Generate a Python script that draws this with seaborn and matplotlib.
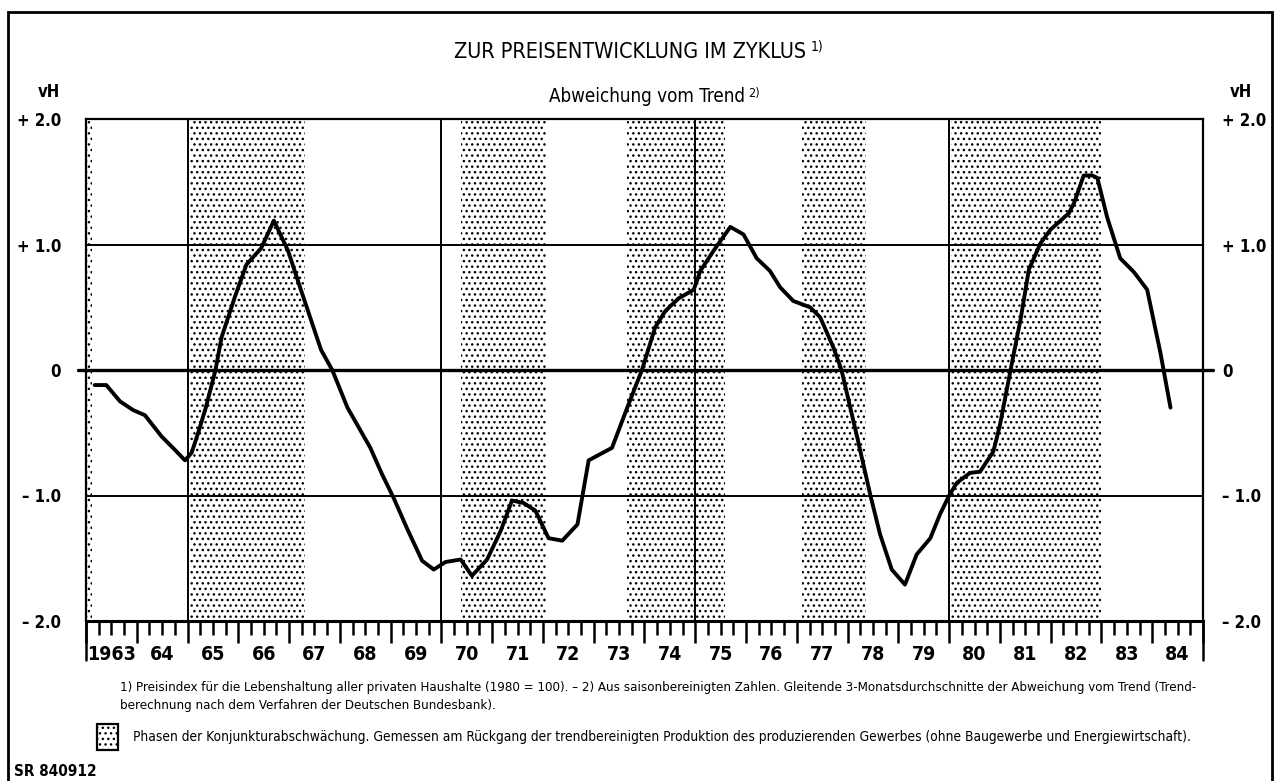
import numpy as np
import pandas as pd
import seaborn as sns
import matplotlib.pyplot as plt
from matplotlib.patches import Rectangle
from matplotlib.ticker import FixedLocator
from matplotlib.transforms import ScaledTranslation

# ---- data (year, deviation from trend in vH) ----
years = [1963.17, 1963.40, 1963.67, 1963.93, 1964.16, 1964.49, 1964.76, 1964.95,
         1965.08, 1965.21, 1965.36, 1965.55, 1965.67, 1965.93, 1966.16, 1966.45,
         1966.70, 1966.98, 1967.24, 1967.63, 1967.85, 1968.15, 1968.60, 1968.83,
         1969.06, 1969.32, 1969.62, 1969.85, 1970.08, 1970.38, 1970.60, 1970.90,
         1971.17, 1971.39, 1971.62, 1971.85, 1972.11, 1972.38, 1972.68, 1972.90,
         1973.36, 1973.66, 1973.95, 1974.21, 1974.41, 1974.67, 1974.97, 1975.10,
         1975.36, 1975.69, 1975.95, 1976.21, 1976.47, 1976.67, 1976.93, 1977.26,
         1977.46, 1977.72, 1977.88, 1978.18, 1978.45, 1978.64, 1978.87, 1979.13,
         1979.36, 1979.63, 1979.82, 1980.00, 1980.15, 1980.41, 1980.61, 1980.87,
         1981.00, 1981.21, 1981.41, 1981.57, 1981.80, 1982.00, 1982.36, 1982.46,
         1982.65, 1982.82, 1982.92, 1983.11, 1983.37, 1983.64, 1983.90, 1984.16,
         1984.36]
deviation = [-0.12, -0.12, -0.25, -0.32, -0.36, -0.53, -0.64, -0.72,
             -0.66, -0.50, -0.30, 0.00, 0.26, 0.58, 0.84, 0.97,
             1.19, 0.95, 0.63, 0.16, 0.00, -0.30, -0.62, -0.83,
             -1.02, -1.26, -1.52, -1.59, -1.53, -1.51, -1.64, -1.51,
             -1.28, -1.04, -1.06, -1.12, -1.34, -1.36, -1.23, -0.72,
             -0.62, -0.30, 0.00, 0.34, 0.47, 0.57, 0.64, 0.79,
             0.95, 1.14, 1.08, 0.89, 0.79, 0.66, 0.55, 0.50,
             0.42, 0.18, 0.00, -0.52, -1.00, -1.31, -1.59, -1.71,
             -1.47, -1.34, -1.15, -1.00, -0.90, -0.82, -0.81, -0.65,
             -0.44, 0.00, 0.41, 0.80, 1.01, 1.12, 1.25, 1.33,
             1.55, 1.55, 1.53, 1.22, 0.89, 0.78, 0.64, 0.14,
             -0.30]

# phases of cyclical slowdown (start, end)
phase_start = [1962.9, 1965.05, 1970.38, 1973.66, 1977.10, 1980.04]
phase_end = [1963.12, 1967.32, 1972.06, 1975.58, 1978.36, 1983.00]

year_labels = ["1963"] + [str(y) for y in range(64, 85)]
ytick_vals = [-2, -1, 0, 1, 2]
ytick_text = ["\u2013 2.0", "\u2013 1.0", "0", "+ 1.0", "+ 2.0"]

df = pd.DataFrame({"Jahr": years, "vH": deviation})

sns.set_style("white")
plt.rcParams["font.family"] = ["DejaVu Sans"]
plt.rcParams["font.stretch"] = "condensed"
plt.rcParams["text.color"] = "black"
plt.rcParams["xtick.color"] = "black"
plt.rcParams["ytick.color"] = "black"
plt.rcParams["hatch.linewidth"] = 1.0
plt.rcParams["hatch.color"] = "black"

W, H = 1280, 781
fig = plt.figure(figsize=(W / 100, H / 100), dpi=100)
fig.patch.set_facecolor("white")


def fx(px):
    return px / W


def fy(py):
    return 1 - py / H


ax = fig.add_axes([fx(86), fy(621), fx(1203 - 86), (621 - 119) / H])
ax.set_xlim(1963, 1985)
ax.set_ylim(-2, 2)

# shaded phases
for s, e in zip(phase_start, phase_end):
    ax.axvspan(max(s, 1963.02), e, facecolor="white", edgecolor="black",
               hatch="...", linewidth=0, zorder=0)

# grid lines
for v in [1, -1]:
    ax.axhline(v, color="black", lw=1.4, zorder=1)
ax.plot([1962.84, 1985.2], [0, 0], color="black", lw=2.4, clip_on=False, zorder=1)
for yr in [1965, 1970, 1975, 1980]:
    ax.axvline(yr, color="black", lw=1.4, zorder=1)

# the series
sns.lineplot(data=df, x="Jahr", y="vH", ax=ax, color="black", linewidth=2.8,
             sort=False, zorder=3)

for sp in ax.spines.values():
    sp.set_color("black")
    sp.set_linewidth(1.6)
ax.spines["bottom"].set_linewidth(2.2)

# axis extensions below the frame
for xv in [1963, 1985]:
    ax.plot([xv, xv], [-2, -2.31], color="black", lw=1.8, clip_on=False)

# x ticks: quarter ticks short, year ticks longer, labels centred in years
ax.set_xticks([y + 0.5 for y in range(1963, 1985)])
ax.set_xticklabels(year_labels, fontsize=14, fontweight="bold")
ax.xaxis.set_minor_locator(FixedLocator([y + q for y in range(1963, 1985) for q in (0.25, 0.75)]))
ax.tick_params(axis="x", which="major", direction="out", length=10, width=1.8,
               pad=7, color="black", bottom=True)
ax.tick_params(axis="x", which="minor", direction="out", length=10, width=1.8,
               color="black", bottom=True)
sec = ax.secondary_xaxis("bottom")
sec.set_xticks(list(range(1963, 1986)))
sec.set_xticklabels([])
sec.tick_params(axis="x", direction="out", length=16, width=1.8, color="black")
sec.spines["bottom"].set_visible(False)

# y ticks on both sides
ax.set_yticks(ytick_vals)
ax.set_yticklabels(ytick_text, fontsize=12, fontweight="bold")
ax.tick_params(axis="y", length=0, pad=18, left=False, right=False,
               labelleft=True, labelright=True)
for tick in ax.yaxis.get_major_ticks():
    tick.label2.set_transform(tick.label2.get_transform()
                              + ScaledTranslation(-6 / 100, 0, fig.dpi_scale_trans))
ax.set_xlabel("")
ax.set_ylabel("")

renderer = fig.canvas.get_renderer()


def fit_text(x, y, s, width_px, ha="left", **kw):
    t = fig.text(x, y, s, ha=ha, va="center", **kw)
    w = t.get_window_extent(renderer).width
    t.set_fontsize(t.get_fontsize() * width_px / w)
    return t


# titles
fit_text(fx(630), fy(52), "ZUR PREISENTWICKLUNG IM ZYKLUS", 356,
         ha="center", fontsize=17)
fig.text(fx(811), fy(47), "1)", fontsize=10, ha="left", va="center")
fit_text(fx(647), fy(97), "Abweichung vom Trend", 197, ha="center", fontsize=13)
fig.text(fx(748), fy(93), "2)", fontsize=9, ha="left", va="center")

fig.text(fx(38), fy(92), "vH", fontsize=12, fontweight="bold", ha="left", va="center")
fig.text(fx(1230), fy(92), "vH", fontsize=12, fontweight="bold", ha="left", va="center")

# footnotes
f1 = fit_text(fx(120), fy(688),
              "1) Preisindex f\u00fcr die Lebenshaltung aller privaten Haushalte (1980 = 100). \u2013 2) "
              "Aus saisonbereinigten Zahlen. Gleitende 3-Monatsdurchschnitte der Abweichung vom Trend (Trend-",
              1073, fontsize=10)
fig.text(fx(120), fy(706), "berechnung nach dem Verfahren der Deutschen Bundesbank).",
         fontsize=f1.get_fontsize(), ha="left", va="center")
fit_text(fx(133), fy(737),
         "Phasen der Konjunkturabschw\u00e4chung. Gemessen am R\u00fcckgang der trendbereinigten "
         "Produktion des produzierenden Gewerbes (ohne Baugewerbe und Energiewirtschaft).",
         1057, fontsize=10)
fig.add_artist(Rectangle((fx(97), fy(750)), fx(21), 26 / H, transform=fig.transFigure,
                         facecolor="white", edgecolor="black", hatch="...", linewidth=1.6))
fig.text(fx(14), fy(771), "SR 840912", fontsize=11, fontweight="bold", ha="left", va="center")

# outer frame
fig.add_artist(Rectangle((fx(8), -0.02), fx(1264), 1.02 - 12 / H,
                         transform=fig.transFigure, fill=False, edgecolor="black",
                         linewidth=2))

fig.savefig("out.png", dpi=100)
